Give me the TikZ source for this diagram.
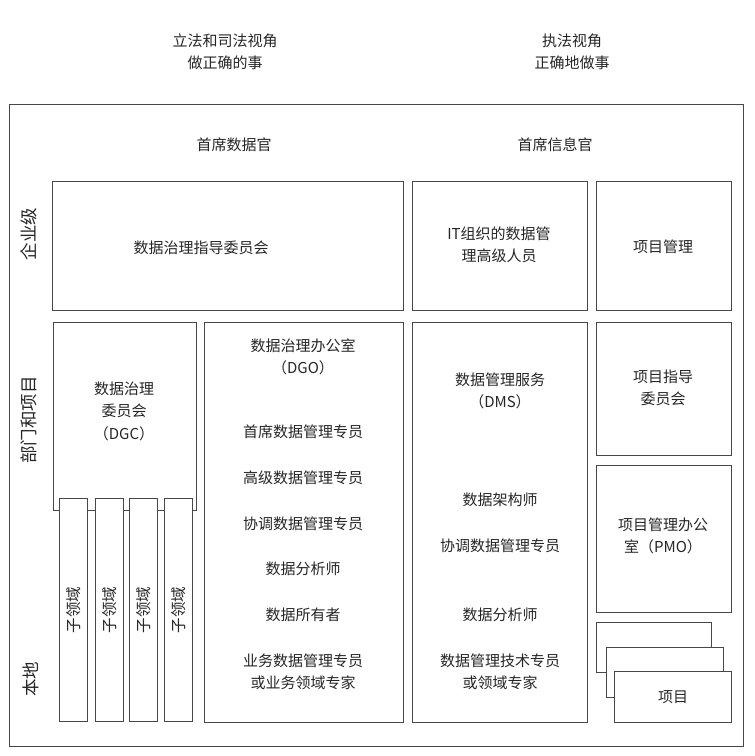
\documentclass[tikz,border=0pt]{standalone}
\usepackage{fontspec}
\setmainfont{Noto Sans CJK SC}
\usetikzlibrary{positioning}

\begin{document}
\begin{tikzpicture}[x=1pt,y=-1pt,
    box/.style={draw=black!72, line width=1pt, fill=white, inner sep=0pt, anchor=north west},
    lbl/.style={font=\fontsize{15}{22.5}\selectfont, align=center, text=black!85, inner sep=0pt},
    side/.style={lbl, font=\fontsize{17.5}{20}\selectfont, rotate=90},
    subside/.style={lbl, font=\fontsize{15.5}{18}\selectfont, rotate=90}]

    % 背景
    \fill[white] (0,0) rectangle (755,756);
    \useasboundingbox (0,0) rectangle (755,756);

    %--------------------------------
    % 顶部视角
    %--------------------------------
    \node[lbl] (lawview) at (225,52) {立法和司法视角\\做正确的事};
    \node[lbl] (execview) at (572,52) {执法视角\\正确地做事};

    %--------------------------------
    % 外框与层级
    %--------------------------------
    \node[box, minimum width=734, minimum height=642] (frame) at (9,104) {};
    \node[lbl] (cdo) at (234,145) {首席数据官};
    \node[lbl] (cio) at (555,145) {首席信息官};

    \node[side] (enterprise) at (29,234) {企业级};
    \node[side] (dept) at (29,420) {部门和项目};
    \node[side] (local) at (31,679) {本地};

    %--------------------------------
    % 企业级
    %--------------------------------
    \node[box, minimum width=351, minimum height=129] (steer) at (52,181) {};
    \node[lbl] (steertxt) at (201,248) {数据治理指导委员会};
    \node[box, minimum width=175, minimum height=129] (itmgr) at (412,181) {};
    \node[lbl] (itmgrtxt) at (499,245) {IT组织的数据管\\理高级人员};
    \node[box, minimum width=135, minimum height=129] (pm) at (596,181) {};
    \node[lbl] (pmtxt) at (663,247) {项目管理};

    %--------------------------------
    % 部门和项目: DGC 与子领域
    %--------------------------------
    \node[box, minimum width=143, minimum height=188] (dgc) at (53,322) {};
    \node[lbl] (dgctxt) at (124,411) {数据治理\\委员会\\（DGC）};
    \foreach \x/\n in {59/1,95/2,129/3,164/4}{
        \node[box, minimum width=28, minimum height=223] (sub\n) at (\x,498) {};
        \node[subside] at (sub\n.center) {子领域};
    }

    %--------------------------------
    % DGO
    %--------------------------------
    \node[box, minimum width=199, minimum height=400] (dgo) at (204,322) {};
    \node[lbl] (dgotitle) at (303,357) {数据治理办公室\\（DGO）};
    \foreach \y/\txt in {432/首席数据管理专员,478/高级数据管理专员,524/协调数据管理专员,
        569/数据分析师,615/数据所有者}{
        \node[lbl] at (303,\y) {\txt};
    }
    \node[lbl] (dgobiz) at (303,672) {业务数据管理专员\\或业务领域专家};

    %--------------------------------
    % DMS
    %--------------------------------
    \node[box, minimum width=175, minimum height=400] (dms) at (412,322) {};
    \node[lbl] (dmstitle) at (500,391) {数据管理服务\\（DMS）};
    \foreach \y/\txt in {500/数据架构师,546/协调数据管理专员,615/数据分析师}{
        \node[lbl] at (500,\y) {\txt};
    }
    \node[lbl] (dmstech) at (500,672) {数据管理技术专员\\或领域专家};

    %--------------------------------
    % 项目侧
    %--------------------------------
    \node[box, minimum width=135, minimum height=133] (psc) at (596,322) {};
    \node[lbl] (psctxt) at (663,388) {项目指导\\委员会};
    \node[box, minimum width=135, minimum height=147] (pmo) at (596,465) {};
    \node[lbl] (pmotxt) at (663,536) {项目管理办公\\室（PMO）};

    \node[box, minimum width=115, minimum height=50] (proj1) at (596,622) {};
    \node[box, minimum width=117, minimum height=50] (proj2) at (606,647) {};
    \node[box, minimum width=117, minimum height=51] (proj3) at (614,671) {};
    \node[lbl] (projtxt) at (proj3.center) {项目};

\end{tikzpicture}
\end{document}
